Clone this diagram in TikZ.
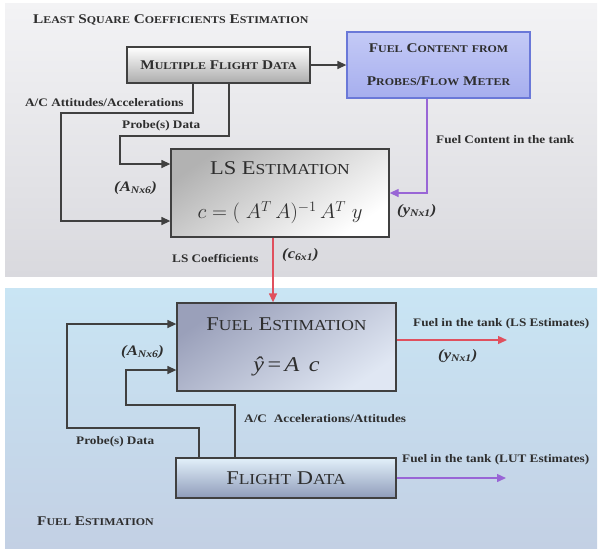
\documentclass[tikz,border=0pt]{standalone}
\usepackage{fontspec}
\setmainfont{Liberation Serif}
\newfontfamily\labf[FakeStretch=1.15]{Liberation Serif}
\usepackage{graphicx}
\usetikzlibrary{arrows.meta}
\newcommand\Sm[1]{\scalebox{0.78}{#1}}
\definecolor{connc}{HTML}{404040}
\definecolor{redc}{HTML}{E0505E}
\definecolor{purc}{HTML}{9966D6}
\definecolor{txtc}{HTML}{2E2E2E}
\definecolor{panT}{HTML}{F3F3F5}
\definecolor{panB}{HTML}{D9D9DE}
\definecolor{pbT}{HTML}{C9E5F4}
\definecolor{pbB}{HTML}{C3D0E4}
\definecolor{fcT}{HTML}{C4CAF6}
\definecolor{fcB}{HTML}{A6AEEE}
\definecolor{fcD}{HTML}{6A78D8}
\definecolor{feA}{HTML}{9AA0BA}
\definecolor{feB}{HTML}{E0E7F3}
\definecolor{fdT}{HTML}{E2F0FA}
\definecolor{fdB}{HTML}{8F9CBA}
\begin{document}
\begin{tikzpicture}[x=1pt,y=-1pt,
  box/.style={draw=connc, line width=1.3pt, inner sep=0pt, align=center, text=txtc},
  connl/.style={draw=connc, line width=1.3pt, -{Triangle[length=9pt,width=8pt]}},
  redl/.style={draw=redc, line width=1.3pt, -{Triangle[length=9pt,width=8pt]}},
  purl/.style={draw=purc, line width=1.3pt, -{Triangle[length=9pt,width=8pt]}},
  lbl/.style={font=\labf\bfseries\fontsize{11.5}{13}\selectfont, inner sep=0pt, text=txtc, anchor=west},
  subl/.style={font=\labf\bfseries\itshape\fontsize{14.5}{16}\selectfont, inner sep=0pt, text=txtc, anchor=west},
  ttl/.style={font=\labf\bfseries\fontsize{13.3}{15}\selectfont, inner sep=0pt, text=txtc, anchor=west},
  bsc/.style={font=\labf\bfseries\fontsize{13.3}{33}\selectfont},
  rsc/.style={font=\labf\fontsize{19.5}{42}\selectfont}
]
\useasboundingbox (0,0) rectangle (601,550);
\shade[top color=panT, bottom color=panB] (5,3) rectangle (597,276);
\shade[top color=pbT, bottom color=pbB] (5,288) rectangle (597,548);

\node[ttl] (t1) at (33,20) {L\Sm{EAST} S\Sm{QUARE} C\Sm{OEFFICIENTS} E\Sm{STIMATION}};
\node[ttl] (t2) at (37,521) {F\Sm{UEL} E\Sm{STIMATION}};

\node[box, bsc, minimum width=183pt, minimum height=36pt, top color=white, bottom color=gray!65] (mfd) at (218.5,65) {M\Sm{ULTIPLE} F\Sm{LIGHT} D\Sm{ATA}};
\node[box, bsc, draw=fcD, minimum width=183pt, minimum height=66pt, top color=fcT, bottom color=fcB] (fc) at (438.5,65) {F\Sm{UEL} C\Sm{ONTENT} \Sm{FROM}\\P\Sm{ROBES}/F\Sm{LOW} M\Sm{ETER}};
\node[box, rsc, minimum width=218pt, minimum height=88pt, top color=gray!60, bottom color=white, shading angle=35] (ls) at (280,193) {LS E\Sm{STIMATION}\\[2pt] \fontsize{21}{24}\selectfont$c=(\;A^{T}\, A)^{-1}\, A^{T}\; y$};
\node[box, rsc, minimum width=219pt, minimum height=88pt, top color=feA, bottom color=feB, shading angle=35] (fe) at (286.5,347) {F\Sm{UEL} E\Sm{STIMATION}\\[-1pt] \fontsize{21}{24}\selectfont\textit{ŷ}\,=\,\textit{A}\;\,\textit{c}};
\node[box, rsc, minimum width=220pt, minimum height=40pt, top color=fdT, bottom color=fdB] (fd) at (286,478) {F\Sm{LIGHT} D\Sm{ATA}};

% top connectors
\draw[connl] (mfd) -- (fc);
\coordinate (p1) at (193,113);
\coordinate (p2) at (61,221);
\draw[connl] (mfd.south -| p1) -- (p1) -| (p2) -- (ls.west |- p2);
\coordinate (q1) at (229,136);
\coordinate (q2) at (120,164);
\draw[connl] (mfd.south -| q1) -- (q1) -| (q2) -- (ls.west |- q2);
\coordinate (r1) at (427,193);
\draw[purl] (fc.south -| r1) -- (r1) -- (ls.east |- r1);
\coordinate (s1) at (273,260);
\draw[redl] (ls.south -| s1) -- (fe.north -| s1);

% bottom connectors
\coordinate (t1c) at (199,428);
\coordinate (t2c) at (67,324);
\draw[connl] (fd.north -| t1c) -- (t1c) -| (t2c) -- (fe.west |- t2c);
\coordinate (u1) at (235,405);
\coordinate (u2) at (126,370);
\draw[connl] (fd.north -| u1) -- (u1) -| (u2) -- (fe.west |- u2);
\coordinate (v1) at (507,340);
\draw[redl] (fe.east |- v1) -- (v1);
\coordinate (w1) at (506,478);
\draw[purl] (fd.east) -- (w1);

% labels
\node[lbl] (lac) at (25,103) {A/C Attitudes/Accelerations};
\node[lbl] (lpr) at (122,126) {Probe(s) Data};
\node[lbl] (lfc) at (436,140) {Fuel Content in the tank};
\node[lbl] (llsc) at (172,258) {LS Coefficients};
\node[subl] (a1) at (114,188) {(A\textsubscript{Nx6})};
\node[subl] (y1) at (397,211) {(y\textsubscript{Nx1})};
\node[subl] (c1) at (282,255) {(c\textsubscript{6x1})};
\node[subl] (a2) at (121,352) {(A\textsubscript{Nx6})};
\node[lbl] (lls) at (413,324) {Fuel in the tank (LS Estimates)};
\node[subl] (y2) at (438,356) {(y\textsubscript{Nx1})};
\node[lbl] (lac2) at (244,419) {A/C\hspace{0.6em}Accelerations/Attitudes};
\node[lbl] (lpr2) at (76,442) {Probe(s) Data};
\node[lbl] (llut) at (402,460) {Fuel in the tank (LUT Estimates)};
\end{tikzpicture}
\end{document}
